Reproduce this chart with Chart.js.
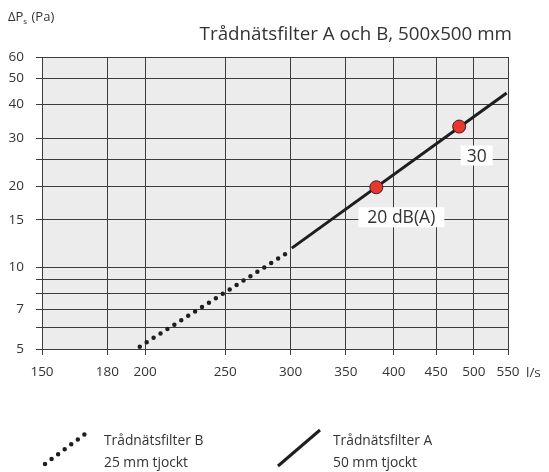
<!DOCTYPE html>
<html>
<head>
<meta charset="utf-8">
<script src="https://cdn.jsdelivr.net/npm/chart.js@4.4.0/dist/chart.umd.min.js"></script>
<style>
  html, body { margin: 0; padding: 0; background: #fff; }
  #wrap { width: 549px; height: 472px; }
</style>
</head>
<body>
<div id="wrap"><canvas id="chart" width="549" height="472"></canvas></div>
<script>
// --- DATA ---
const xTicks = [150, 180, 200, 250, 300, 350, 400, 450, 500, 550];
const yGrid = [5, 6, 7, 8, 9, 10, 15, 20, 25, 30, 40, 50, 60];
const yLabels = [5, 7, 10, 15, 20, 30, 40, 50, 60];

const filterBFlow = [197, 296];
const filterBPressure = [5.1, 11.25];
const filterAFlow = [301, 548];
const filterAPressure = [11.8, 44.2];

const markerFlow = [381, 480];
const markerPressure = [19.8, 33.2];
const markerLabels = ['20 dB(A)', '30'];

const FONT = "'Open Sans', 'Noto Sans', sans-serif";
const TEXT = '#333';
const LINE = '#1e1e1e';

const toPoints = (xs, ys) => xs.map((x, i) => ({ x: x, y: ys[i] }));

// --- PLUGINS ---
const plotBackground = {
    id: 'plotBackground',
    beforeDraw(chart) {
        const { ctx, chartArea: a } = chart;
        ctx.save();
        ctx.fillStyle = '#ececec';
        ctx.fillRect(a.left, a.top, a.right - a.left, a.bottom - a.top);
        ctx.restore();
    }
};

const markerText = {
    id: 'markerText',
    afterDatasetsDraw(chart) {
        const { ctx, scales } = chart;
        // box offsets relative to the marker: [dx, dy, width, height]
        const boxes = [[-18, 20, 86, 20], [1.5, 19, 32, 20]];
        ctx.save();
        ctx.font = `17.5px ${FONT}`;
        ctx.textAlign = 'center';
        ctx.textBaseline = 'middle';
        markerLabels.forEach((label, i) => {
            const px = scales.x.getPixelForValue(markerFlow[i]);
            const py = scales.y.getPixelForValue(markerPressure[i]);
            const [dx, dy, w, h] = boxes[i];
            ctx.fillStyle = '#fff';
            ctx.fillRect(px + dx, py + dy, w, h);
            ctx.fillStyle = TEXT;
            ctx.fillText(label, px + dx + w / 2, py + dy + h / 2 + 1);
        });
        ctx.restore();
    }
};

const decorations = {
    id: 'decorations',
    afterDraw(chart) {
        const ctx = chart.ctx;
        ctx.save();
        ctx.fillStyle = TEXT;
        ctx.textBaseline = 'alphabetic';

        // title
        ctx.font = `18.8px ${FONT}`;
        ctx.textAlign = 'right';
        ctx.fillText('Trådnätsfilter A och B, 500x500 mm', 512, 40);

        // y axis label: ΔPs (Pa)
        ctx.textAlign = 'left';
        ctx.font = `13px ${FONT}`;
        ctx.fillText('ΔP', 8, 21);
        let w = ctx.measureText('ΔP').width;
        ctx.font = `8px ${FONT}`;
        ctx.fillText('s', 8 + w, 24);
        w += ctx.measureText('s').width + 1;
        ctx.font = `13px ${FONT}`;
        ctx.fillText(' (Pa)', 8 + w, 21);

        // x unit
        ctx.font = `13.5px ${FONT}`;
        ctx.textBaseline = 'middle';
        ctx.fillText('l/s', 526, 373);

        // legend
        ctx.strokeStyle = LINE;
        ctx.lineCap = 'round';
        ctx.lineWidth = 4.5;
        ctx.setLineDash([0, 8.2]);
        ctx.beginPath();
        ctx.moveTo(45, 464);
        ctx.lineTo(89, 431);
        ctx.stroke();

        ctx.setLineDash([]);
        ctx.lineCap = 'butt';
        ctx.lineWidth = 3;
        ctx.beginPath();
        ctx.moveTo(278, 466);
        ctx.lineTo(320, 430);
        ctx.stroke();

        ctx.font = `13.8px ${FONT}`;
        ctx.fillText('Trådnätsfilter B', 104, 441);
        ctx.fillText('25 mm tjockt', 104, 463);
        ctx.fillText('Trådnätsfilter A', 333, 441);
        ctx.fillText('50 mm tjockt', 333, 463);
        ctx.restore();
    }
};

// --- CHART ---
const grid = { color: '#3c3c3c', lineWidth: 1, tickLength: 6, drawTicks: true };

new Chart(document.getElementById('chart'), {
    type: 'line',
    data: {
        datasets: [
            {
                label: 'Markers',
                data: toPoints(markerFlow, markerPressure),
                showLine: false,
                pointRadius: 6.5,
                pointBackgroundColor: '#e8382d',
                pointBorderColor: '#3a2020',
                pointBorderWidth: 1,
                order: 0
            },
            {
                label: 'Trådnätsfilter A',
                data: toPoints(filterAFlow, filterAPressure),
                borderColor: LINE,
                borderWidth: 3,
                pointRadius: 0,
                order: 1
            },
            {
                label: 'Trådnätsfilter B',
                data: toPoints(filterBFlow, filterBPressure),
                borderColor: LINE,
                borderWidth: 4.5,
                borderDash: [0, 8.2],
                borderCapStyle: 'round',
                pointRadius: 0,
                order: 2
            }
        ]
    },
    options: {
        responsive: false,
        animation: false,
        devicePixelRatio: 1,
        layout: { padding: { top: 57, right: 41, bottom: 93, left: 0 } },
        plugins: {
            legend: { display: false },
            tooltip: { enabled: false },
            title: { display: false }
        },
        scales: {
            x: {
                type: 'logarithmic',
                min: 150,
                max: 550,
                afterBuildTicks: s => { s.ticks = xTicks.map(v => ({ value: v })); },
                afterFit: s => { s.height = 30; s.paddingLeft = 0; s.paddingRight = 0; },
                ticks: {
                    autoSkip: false,
                    maxRotation: 0,
                    padding: 9,
                    color: TEXT,
                    font: { family: FONT, size: 13.5 },
                    callback: v => String(v)
                },
                grid: grid,
                border: { display: true, color: '#3c3c3c', width: 1 }
            },
            y: {
                type: 'logarithmic',
                min: 5,
                max: 60,
                afterBuildTicks: s => { s.ticks = yGrid.map(v => ({ value: v })); },
                afterFit: s => { s.width = 42; s.paddingTop = 0; s.paddingBottom = 0; },
                ticks: {
                    autoSkip: false,
                    padding: 12,
                    color: TEXT,
                    font: { family: FONT, size: 13.5 },
                    callback: v => yLabels.includes(v) ? String(v) : ''
                },
                grid: grid,
                border: { display: true, color: '#3c3c3c', width: 1 }
            }
        }
    },
    plugins: [plotBackground, markerText, decorations]
});
</script>
</body>
</html>
